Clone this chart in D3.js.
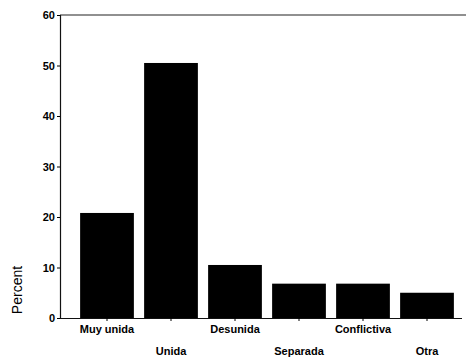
<!DOCTYPE html>
<html><head><meta charset="utf-8">
<script src="https://cdn.jsdelivr.net/npm/d3@7"></script>
<style>body{margin:0;background:#fff}svg{display:block}</style>
</head><body>
<svg id="c" width="466" height="358"></svg>
<script>
const categories = ["Muy unida","Unida","Desunida","Separada","Conflictiva","Otra"];
const percents = [20.8, 50.5, 10.5, 6.8, 6.8, 5.0];
const yTicks = [0,10,20,30,40,50,60];
const yTitle = "Percent";

const svg = d3.select("#c");
const x = d3.scaleBand().domain(categories).range([75,459]).paddingInner(0.16).paddingOuter(0.08);
const y = d3.scaleLinear().domain([0,60]).range([318,15]);

// top frame line
svg.append("line").attr("x1",60).attr("x2",466).attr("y1",y(60)).attr("y2",y(60))
  .attr("stroke","#222").attr("stroke-width",1.2);

svg.selectAll("rect.bar").data(percents).join("rect").attr("class","bar")
  .attr("x",(d,i)=>x(categories[i])).attr("width",x.bandwidth())
  .attr("y",d=>y(d)).attr("height",d=>y(0)-y(d)).attr("fill","#000");

const ya = svg.append("g").attr("transform","translate(60,0)")
  .call(d3.axisLeft(y).tickValues(yTicks).tickSize(3).tickPadding(2).tickFormat(d3.format("d")));
ya.select(".domain").attr("stroke","#111").attr("stroke-width",1.2);
ya.selectAll("text").attr("font-family","Liberation Sans, Arial, sans-serif")
  .attr("font-size",11).attr("font-weight","bold").attr("fill","#000");

const xa = svg.append("g").attr("transform",`translate(0,${y(0)})`)
  .call(d3.axisBottom(x).tickSize(3).tickSizeOuter(0).tickPadding(4));
xa.select(".domain").attr("d","M60,0.5H462").attr("stroke","#111").attr("stroke-width",1.2);
xa.selectAll("text").attr("font-family","Liberation Sans, Arial, sans-serif")
  .attr("font-size",11).attr("font-weight","bold").attr("fill","#000")
  .attr("dy",(d,i)=> i%2===0 ? "0.71em" : "2.7em");

svg.append("text").attr("transform","translate(22,290) rotate(-90)")
  .attr("text-anchor","middle").attr("font-family","Liberation Sans, Arial, sans-serif")
  .attr("font-size",14).attr("fill","#000").text(yTitle);
</script>
</body></html>
